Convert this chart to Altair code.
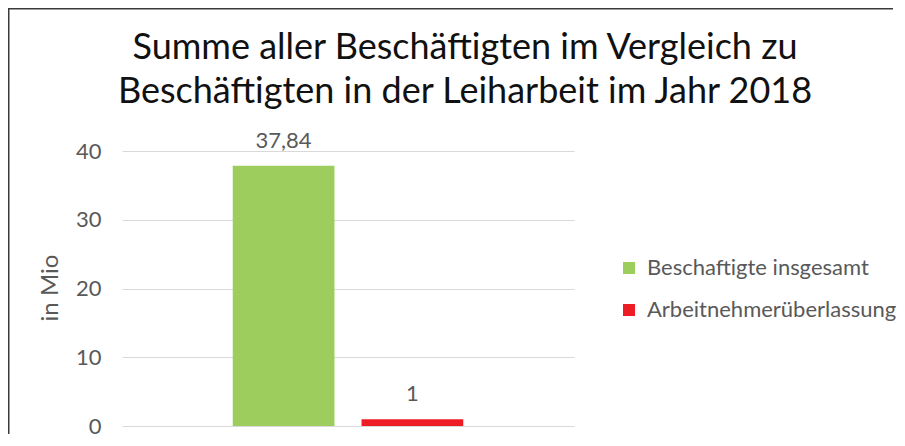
import altair as alt
import pandas as pd

series = ["Beschaftigte insgesamt", "Arbeitnehmerüberlassung"]
values = [37.84, 1]
labels = ["37,84", "1"]
colors = ["#9DCD5D", "#EE1D25"]
y_ticks = [0, 10, 20, 30, 40]
title_lines = ["Summe aller Beschäftigten im Vergleich zu",
               "Beschäftigten in der Leiharbeit im Jahr 2018"]

df = pd.DataFrame({"series": series, "value": values, "label": labels})

W, H = 452, 275
PAD = {"left": 114, "top": 143, "right": 323, "bottom": 12}

xenc = alt.X("series:N", sort=series, axis=None,
             scale=alt.Scale(paddingInner=0.21, paddingOuter=0.86))

bars = alt.Chart(df).mark_bar().encode(
    x=xenc,
    y=alt.Y("value:Q", scale=alt.Scale(domain=[0, 40]),
            axis=alt.Axis(values=y_ticks, title="in Mio", grid=True,
                          gridColor="#D9D9D9", gridWidth=1,
                          domain=False, ticks=False,
                          labelColor="#595959", labelFont="Lato", labelFontSize=22,
                          labelPadding=21,
                          titleColor="#595959", titleFont="Lato", titleFontSize=24,
                          titleFontWeight="normal", titleX=-72, titleY=136.5,
                          titleAngle=270, titleAlign="center", titleBaseline="middle")),
    color=alt.Color("series:N", sort=series,
                    scale=alt.Scale(domain=series, range=colors),
                    legend=alt.Legend(title=None, orient="none", legendX=496, legendY=106,
                                      symbolType="square", symbolSize=144,
                                      symbolStrokeWidth=0, symbolOpacity=1,
                                      labelFont="Lato", labelFontSize=22,
                                      labelColor="#595959", labelOffset=7,
                                      labelLimit=0,
                                      rowPadding=20, padding=0)),
)

text = alt.Chart(df).mark_text(baseline="alphabetic", dy=-18, fontSize=22,
                               font="Lato", color="#595959").encode(
    x=xenc,
    y=alt.Y("value:Q"),
    text="label:N",
)

frame_df = pd.DataFrame({"k": [0]})
frame_top = alt.Chart(frame_df).mark_rule(color="#3A3A3A", strokeWidth=1.5).encode(
    x=alt.value(-114), x2=alt.value(W + PAD["right"] - 4), y=alt.value(-142.25))
frame_left = alt.Chart(frame_df).mark_rule(color="#3A3A3A", strokeWidth=1.5).encode(
    x=alt.value(-113.25), y=alt.value(-143), y2=alt.value(H + PAD["bottom"] - 4))

chart = alt.layer(bars, text, frame_top, frame_left).properties(
    width=W, height=H,
    autosize=alt.AutoSizeParams(type="none"),
    padding=PAD,
    title=alt.TitleParams(text=title_lines, font="Lato", fontSize=36,
                          fontWeight="normal", color="#111111",
                          anchor="middle", frame="group", offset=0,
                          lineHeight=44, dx=117, dy=104),
).configure_view(stroke=None)

chart.save("out.html", embed_options={"renderer": "svg", "actions": False})
